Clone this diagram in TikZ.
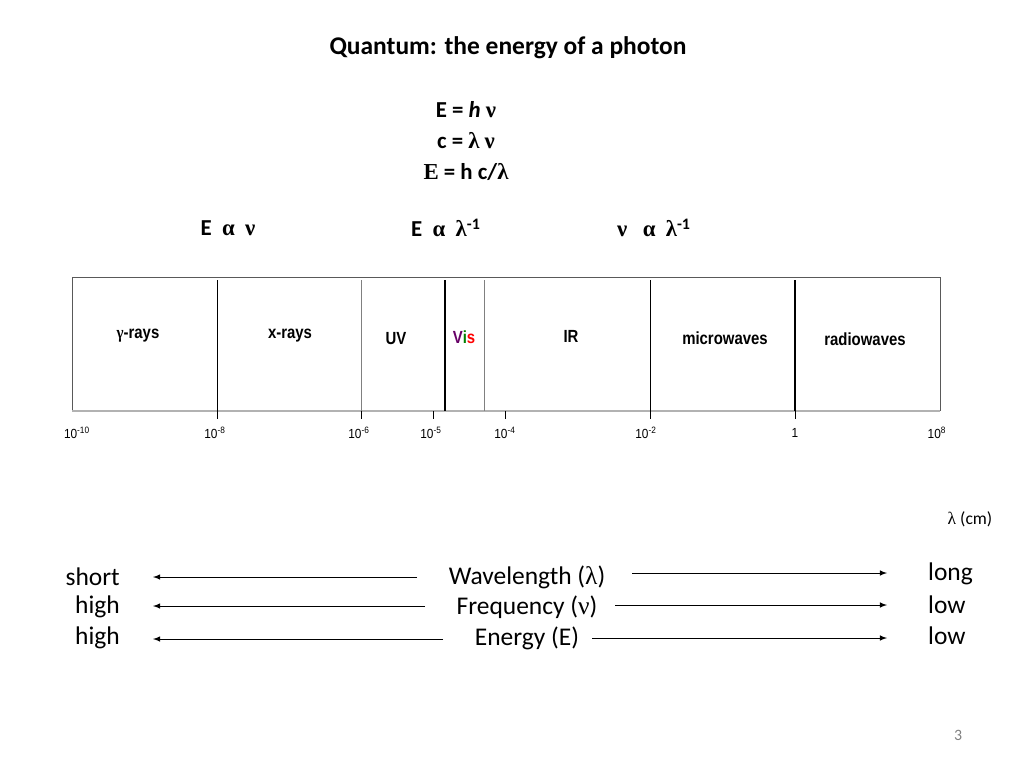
\documentclass[tikz,border=0pt]{standalone}
\usepackage{fontspec}
\setmainfont{Carlito}
\newfontfamily\greekfont{Liberation Serif}
\newfontfamily\arialfont{Liberation Sans}
\usetikzlibrary{positioning}
\newcommand{\gr}[1]{{\greekfont #1}}
\tikzset{
  band/.style={font=\arialfont\bfseries\fontsize{10}{12}\selectfont, xscale=0.85},
  tick/.style={font=\arialfont\fontsize{7.5}{9}\selectfont, xscale=0.9},
  big/.style={font=\fontsize{14.5}{17}\selectfont},
  eqn/.style={font=\bfseries\fontsize{13}{15}\selectfont},
  arr/.style={-latex, thin}
}
\begin{document}
\begin{tikzpicture}[x=0.02cm, y=-0.02cm]
\useasboundingbox (0,0) rectangle (1024,768);

% title and relations
\node[eqn, font=\bfseries\fontsize{14.5}{17}\selectfont] (title) at (508,48) {Quantum: the energy of a photon};
\node[eqn] (e1) at (466,110) {E = \textit{h} \gr{ν}};
\node[eqn] (e2) at (466,141) {c = \gr{λ} \gr{ν}};
\node[eqn] (e3) at (466,172) {\gr{E} = h c/\gr{λ}};
\node[eqn] (p1) at (228,228) {E \ \gr{α} \ \gr{ν}};
\node[eqn] (p2) at (446,228) {E \ \gr{α} \ \gr{λ}\textsuperscript{-1}};
\node[eqn] (p3) at (654,228) {\gr{ν} \ \ \gr{α} \ \gr{λ}\textsuperscript{-1}};

% spectrum box
\draw[gray!70!black, thin] (72,411) -- (72,277) -- (940,277) -- (940,411);
\draw[gray!60, line width=1.2pt] (72,411) -- (940,411);
\foreach \x in {217,650} \draw[thin] (\x,280) -- (\x,411);
\foreach \x in {361,484} \draw[gray, thin] (\x,280) -- (\x,411);
\foreach \x in {445,795} \draw[line width=0.9pt] (\x,280) -- (\x,411);
\foreach \x in {217,361,433,505,650,795} \draw (\x,411) -- (\x,419);

\node[band] (gam) at (138,336) {\gr{γ}-rays};
\node[band] (xr) at (290,336) {x-rays};
\node[band] (uv) at (396,339) {UV};
\node[band] (vis) at (464,337) {\textcolor{violet!80!black}{V}\textcolor{green!50!black}{i}\textcolor{red}{s}};
\node[band] (ir) at (571,336) {IR};
\node[band] (mw) at (725,338) {microwaves};
\node[band] (rw) at (865,339) {radiowaves};

\foreach \x/\t in {77/10\textsuperscript{-10},215/10\textsuperscript{-8},359/10\textsuperscript{-6},431/10\textsuperscript{-5},505/10\textsuperscript{-4},646/10\textsuperscript{-2},795/1,937/10\textsuperscript{8}}
  \node[tick] at (\x,433) {\t};

\node[font=\fontsize{10}{12}\selectfont] (lam) at (970,519) {\gr{λ} (cm)};

% bottom rows
\node[big, anchor=east] (short) at (126,577) {short};
\node[big, anchor=east] (high1) at (126,607) {high};
\node[big, anchor=east] (high2) at (126,638) {high};
\node[big] (wl) at (527,577) {Wavelength (\gr{λ})};
\node[big] (fr) at (527,607) {Frequency (\gr{ν})};
\node[big] (en) at (527,638) {Energy (E)};
\node[big, anchor=west] (long) at (922,574) {long};
\node[big, anchor=west] (low1) at (922,605) {low};
\node[big, anchor=west] (low2) at (922,636) {low};

\coordinate (l1) at (153,577); \coordinate (l2) at (153,606); \coordinate (l3) at (153,639);
\coordinate (r1) at (887,573); \coordinate (r2) at (887,605); \coordinate (r3) at (887,638);
\coordinate (s1) at (417,577); \coordinate (s2) at (425,606); \coordinate (s3) at (443,639);
\coordinate (t1) at (632,573); \coordinate (t2) at (615,605); \coordinate (t3) at (592,638);
\foreach \i in {1,2,3} {
  \draw[arr] (s\i) -- (l\i);
  \draw[arr] (t\i) -- (r\i);
}

\node[text=gray, font=\fontsize{9}{11}\selectfont] (pg) at (958,735) {3};
\end{tikzpicture}
\end{document}
